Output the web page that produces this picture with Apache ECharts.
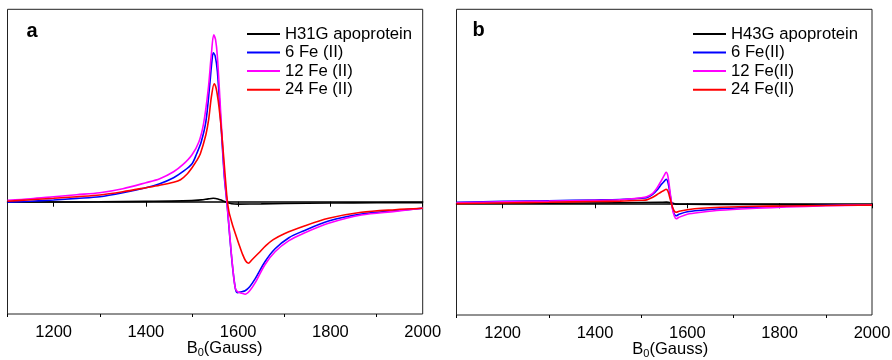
<!DOCTYPE html>
<html>
<head>
<meta charset="utf-8">
<script src="https://cdn.jsdelivr.net/npm/echarts@6/dist/echarts.min.js"></script>
<style>html,body{margin:0;padding:0;background:#fff}#c{width:892px;height:360px}</style>
</head>
<body>
<div id="c"></div>
<script>
// ---------- tick labels ----------
const xMajorTicks = [1200, 1400, 1600, 1800, 2000];
const xMinorTicks = [1100, 1300, 1500, 1700, 1900];

// ---------- panel a ----------
const namesA = ['H31G apoprotein', '6 Fe (II)', '12 Fe (II)', '24 Fe (II)'];
const aBlackX = [1100,1200,1300,1400,1480,1520,1535,1546,1556,1566,1576,1586,1600,1650,1700,1800,1900,2000];
const aBlackY = [-0.3,-0.3,-0.1,0.3,0.8,1.8,2.8,3.4,2.8,1,-0.8,-2,-2.4,-2.2,-1.8,-1.3,-1,-0.9];
const aBlueX = [1100,1150,1200,1250,1300,1350,1400,1430,1460,1480,1500,1510,1520,1530,1538,1543,1546,1550,1555,1563,1570,1576,1582,1588,1594,1598,1607,1615,1625,1637,1658,1680,1710,1740,1796,1867,1940,2000];
const aBlueY = [-0.5,0.5,1.7,3.3,5,9,14,18,24,30,38,48,60,80,115,140,149,146,130,75,25,-3,-36,-66,-87,-91,-90,-89,-85,-77,-60,-47,-36,-29.5,-19.3,-12.3,-9,-6.6];
const aMagX = [1100,1150,1200,1250,1300,1350,1400,1430,1460,1480,1500,1515,1525,1535,1542,1547,1551,1555,1563,1570,1576,1582,1588,1594,1600,1608,1615,1625,1637,1658,1680,1710,1740,1796,1867,1940,2000];
const aMagY = [1.5,3,5,7,9,13,19,23,30,37,47,60,78,112,148,167,162,145,82,28,-2,-35,-65,-87,-90.5,-91.5,-92.5,-89,-81,-63,-50,-39,-32,-21.6,-13.3,-9.7,-6.6];
const aRedX = [1100,1150,1200,1250,1300,1350,1400,1430,1460,1475,1490,1500,1510,1518,1530,1536,1542,1548,1552,1557,1563,1568,1572,1576,1580,1587,1594,1602,1609,1616,1622,1630,1644,1660,1676,1700,1745,1796,1867,1940,2000];
const aRedY = [0.5,2,3.4,5,6.7,10,14,16.5,19.5,22,28,34,41,48,67,82,105,118,114,100,75,48,25,3,-10,-22,-32,-43,-52,-59,-61.5,-58,-51.6,-44,-38,-32,-24,-16.6,-10.6,-8,-6.6];

// ---------- panel b ----------
const namesB = ['H43G apoprotein', '6 Fe(II)', '12 Fe(II)', '24 Fe(II)'];
const bBlackX = [1100,1300,1450,1540,1555,1565,1575,1600,1700,1800,2000];
const bBlackY = [0,0.2,0.6,1,1.2,0.5,-0.8,-1,-1.1,-1.3,-1.5];
const bBlueX = [1100,1200,1300,1400,1454,1500,1512,1525,1534,1544,1550,1554,1558,1563,1568,1572,1576,1582,1600,1630,1671,1750,1815,1900,2000];
const bBlueY = [1,2,2.6,3.3,3.8,5,5.6,9,13,19,22,24,21,8,-5,-11,-12.5,-11,-8.5,-7,-5.5,-4,-3,-2,-1.5];
const bMagX = [1100,1200,1300,1400,1454,1500,1512,1525,1534,1544,1550,1554,1558,1563,1568,1572,1576,1582,1600,1630,1671,1750,1815,1900,2000];
const bMagY = [0.5,1.5,2.2,3,3.5,5.5,6.6,10,15,23,28,31,27,10,-6,-13,-15.5,-14,-11,-9,-7,-5,-3.7,-2.5,-1.7];
const bRedX = [1100,1200,1300,1400,1454,1500,1512,1525,1534,1544,1550,1554,1558,1563,1568,1572,1576,1582,1600,1630,1671,1750,1815,1900,2000];
const bRedY = [-0.3,0.3,1,1.8,2.2,3,3.4,6,8.5,11.5,13,14,12,4,-4,-8,-9,-8,-6.5,-5,-4,-3,-2.7,-2.2,-1.8];

const colors = ['#000000', '#0000ff', '#ff00ff', '#ff0000'];
const FONT = 'Liberation Sans, Arial, sans-serif';
const zip = (xs, ys) => xs.map((x, i) => [x, ys[i]]);

function mkSeries(name, xs, ys, color, axisIdx, yIdx) {
  return {
    type: 'line', name: name, data: zip(xs, ys),
    xAxisIndex: axisIdx, yAxisIndex: yIdx,
    showSymbol: false, symbol: 'none', smooth: 0.3,
    lineStyle: { color: color, width: 1.6 }, itemStyle: { color: color },
    animation: false
  };
}

function mkXAxes(gridIndex, namePadLeft) {
  return [
    {
      type: 'value', gridIndex: gridIndex, min: 1100, max: 2000, position: 'bottom',
      axisLine: { show: true, lineStyle: { color: '#000', width: 1.5 } },
      axisTick: { show: true, customValues: xMajorTicks, length: 5, inside: false, lineStyle: { color: '#000', width: 1 } },
      axisLabel: { show: true, customValues: xMajorTicks, fontSize: 16.5, color: '#000', fontFamily: FONT, margin: 10,
                   formatter: v => String(v) },
      splitLine: { show: false },
      name: '{b|B}{s|0}{b|(Gauss)}', nameLocation: 'middle', nameGap: 24, nameMoveOverlap: false,
      nameTextStyle: {
        padding: [0, 0, 0, namePadLeft],
        rich: {
          b: { fontSize: 16.5, color: '#000', fontFamily: FONT },
          s: { fontSize: 11, color: '#000', fontFamily: FONT, padding: [9, 0, 0, 0] }
        }
      }
    },
    {
      type: 'value', gridIndex: gridIndex, min: 1100, max: 2000, position: 'bottom',
      axisLine: { show: false },
      axisTick: { show: true, customValues: xMinorTicks, length: 3, inside: false, lineStyle: { color: '#000', width: 1 } },
      axisLabel: { show: false }, splitLine: { show: false }
    }
  ];
}

const chart = echarts.init(document.getElementById('c'), null, { renderer: 'canvas' });
const legendCommon = {
  orient: 'vertical', top: 24.6, padding: 0, itemGap: 0, itemWidth: 33, itemHeight: 2, icon: 'rect',
  textStyle: { fontSize: 16.7, color: '#000', fontFamily: FONT, lineHeight: 18.6 },
  selectedMode: false
};
chart.setOption({
  animation: false,
  backgroundColor: '#fff',
  grid: [
    { left: 7.5, right: 469.3, top: 9.3, bottom: 46, show: true, borderColor: '#222', borderWidth: 1, backgroundColor: 'transparent', outerBoundsMode: 'none', containLabel: false },
    { left: 456.5, right: 20, top: 9.3, bottom: 45, show: true, borderColor: '#222', borderWidth: 1, backgroundColor: 'transparent', outerBoundsMode: 'none', containLabel: false }
  ],
  xAxis: [].concat(mkXAxes(0, 19), mkXAxes(1, 12)),
  yAxis: [
    { type: 'value', gridIndex: 0, min: -112.3, max: 192.4, show: false },
    { type: 'value', gridIndex: 1, min: -111.7, max: 194, show: false }
  ],
  legend: [
    Object.assign({}, legendCommon, { left: 247, data: namesA }),
    Object.assign({}, legendCommon, { left: 693, data: namesB })
  ],
  graphic: [
    { type: 'text', left: 26.5, top: 21, style: { text: 'a', font: 'bold 20px ' + FONT, fill: '#000' } },
    { type: 'text', left: 472.5, top: 20, style: { text: 'b', font: 'bold 20px ' + FONT, fill: '#000' } }
  ],
  series: [
    mkSeries(namesA[0], aBlackX, aBlackY, colors[0], 0, 0),
    mkSeries(namesA[1], aBlueX, aBlueY, colors[1], 0, 0),
    mkSeries(namesA[2], aMagX, aMagY, colors[2], 0, 0),
    mkSeries(namesA[3], aRedX, aRedY, colors[3], 0, 0),
    mkSeries(namesB[0], bBlackX, bBlackY, colors[0], 2, 1),
    mkSeries(namesB[1], bBlueX, bBlueY, colors[1], 2, 1),
    mkSeries(namesB[2], bMagX, bMagY, colors[2], 2, 1),
    mkSeries(namesB[3], bRedX, bRedY, colors[3], 2, 1)
  ]
});
</script>
</body>
</html>
